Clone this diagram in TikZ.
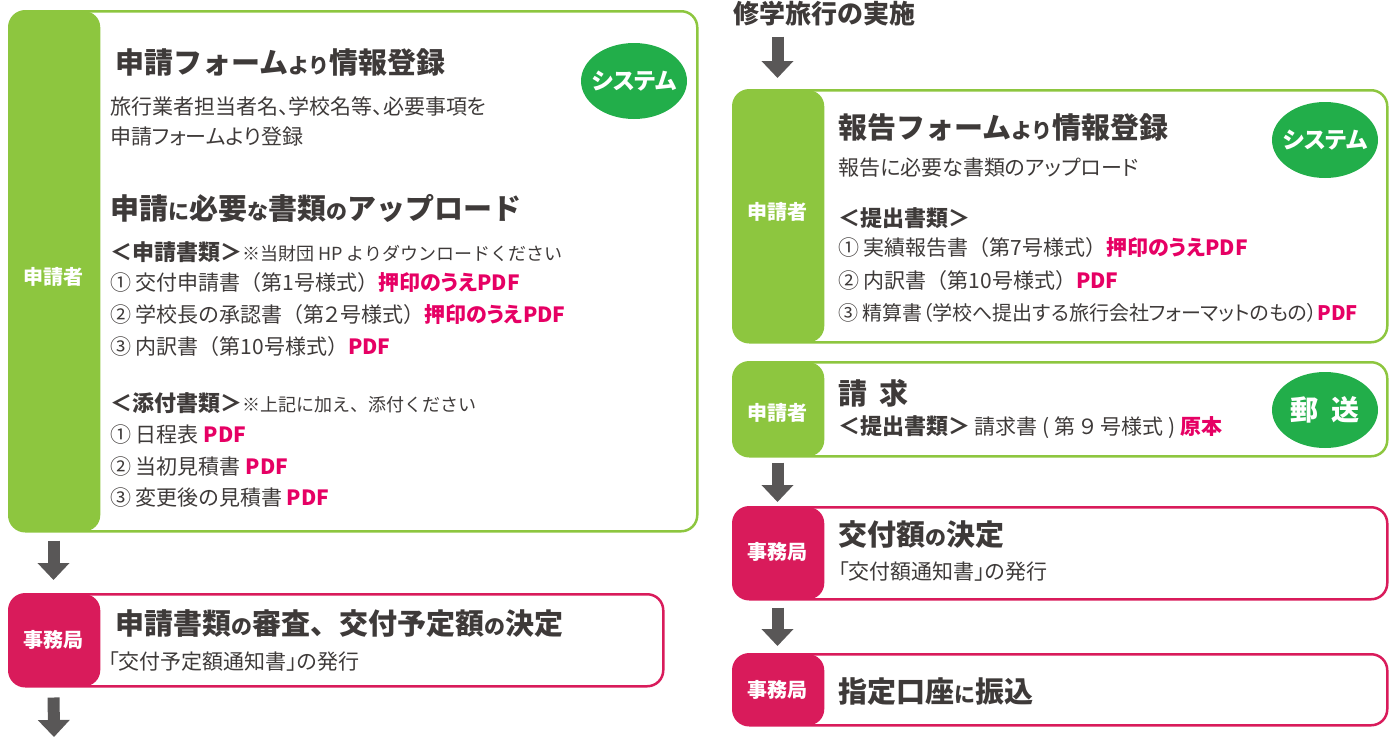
\documentclass[tikz,border=0pt]{standalone}
\usepackage{fontspec}
\setmainfont{Noto Sans CJK JP}[RawFeature=+palt]
\newfontfamily\fwfamily{Noto Sans CJK JP}
\definecolor{bandgreen}{RGB}{141, 198, 63}
\definecolor{bandpink}{RGB}{217, 27, 91}
\definecolor{sysgreen}{RGB}{34, 174, 74}
\definecolor{inkgray}{RGB}{62, 58, 57}
\definecolor{markred}{RGB}{230, 0, 100}
\definecolor{arrowgray}{RGB}{89, 87, 87}
\usetikzlibrary{shapes.geometric, arrows.meta, positioning, calc}
\newcommand{\sm}[1]{{\fontsize{21}{21}\selectfont #1}}
\newcommand{\mk}[1]{\textcolor{markred}{\bfseries #1}}
\newcommand{\fw}[1]{{\fwfamily #1}}
\newcommand{\grp}[1]{{\fwfamily\fontsize{22}{22}\selectfont\bfseries #1}}
\newcommand{\note}[1]{{\fwfamily\fontsize{18}{18}\selectfont #1}}

\begin{document}
\begin{tikzpicture}[
  x=1pt, y=-1pt,
  flowbox/.style={draw=#1, line width=2.5pt, rounded corners=16pt, anchor=north west, inner sep=0pt,
    path picture={\fill[#1] (path picture bounding box.north west) rectangle ([xshift=91pt]path picture bounding box.south west);}},
  tag/.style={text=white, font=\fontsize{20}{20}\selectfont\bfseries, inner sep=0pt},
  txt/.style={anchor=west, inner sep=0pt, text=inkgray},
  head/.style={txt, font=\fwfamily\fontsize{29}{29}\selectfont\bfseries},
  body/.style={txt, font=\fontsize{21}{21}\selectfont},
  item/.style={txt, font=\fontsize{21}{21}\selectfont},
  sysmark/.style={ellipse, fill=sysgreen, minimum width=106pt, minimum height=76pt, inner sep=0pt, text=white, font=\fontsize{23}{23}\selectfont\bfseries},
  flowarrow/.style={draw=arrowgray, line width=12pt, -{Triangle[width=31pt, length=17pt]}}
]
  \useasboundingbox (0,0) rectangle (1393,737);

  % left column
  \node[flowbox=bandgreen, minimum width=688pt, minimum height=520pt] (apply) at (8,10) {};
  \node[tag] (applytag) at (53.5,277) {申請者};
  \node[head] (applyhead) at (115,63) {申請フォーム\sm{より}情報登録};
  \node[body] (applydesc1) at (110,106) {旅行業者担当者名、学校名等、必要事項を};
  \node[body] (applydesc2) at (110,137) {申請フォームより登録};
  \node[sysmark] (applysys) at (634,81) {\makebox[0pt]{システム}};
  \node[head] (uploadhead) at (110,208) {申請\sm{に}必要\sm{な}書類\sm{の}アップロード};
  \node[item] (docs) at (110,252) {\grp{＜申請書類＞}\note{※当財団 HP よりダウンロードください}};
  \node[item] (doc1) at (110,283) {① 交付申請書\fw{（}第1号様式\fw{）}\mk{押印のうえPDF}};
  \node[item] (doc2) at (110,315) {② 学校長の承認書\fw{（}第２号様式\fw{）}\mk{押印のうえPDF}};
  \node[item] (doc3) at (110,347) {③ 内訳書\fw{（}第10号様式\fw{）}\mk{PDF}};
  \node[item] (attach) at (110,403) {\grp{＜添付書類＞}\note{※上記に加え、添付ください}};
  \node[item] (att1) at (110,435) {① 日程表 \mk{PDF}};
  \node[item] (att2) at (110,467) {② 当初見積書 \mk{PDF}};
  \node[item] (att3) at (110,498) {③ 変更後の見積書 \mk{PDF}};

  \node[flowbox=bandpink, minimum width=654pt, minimum height=92pt] (review) at (8,593) {};
  \node[tag] (reviewtag) at (53.5,640) {事務局};
  \node[head] (reviewhead) at (115,624) {申請書類\sm{の}審査、交付予定額\sm{の}決定};
  \node[body] (reviewdesc) at (108,662) {「交付予定額通知書」の発行};
  \coordinate (cont) at (54,737);

  % right column
  \node[txt, font=\fwfamily\fontsize{26}{26}\selectfont\bfseries] (trip) at (733,14) {修学旅行の実施};

  \node[flowbox=bandgreen, minimum width=654pt, minimum height=252pt] (report) at (732,89) {};
  \node[tag] (reporttag) at (777.5,212) {申請者};
  \node[head] (reporthead) at (838,127) {報告フォーム\sm{より}情報登録};
  \node[body] (reportdesc) at (838,168) {報告に必要な書類のアップロード};
  \node[sysmark] (reportsys) at (1325,140) {\makebox[0pt]{システム}};
  \node[item] (subm) at (838,218) {\grp{＜提出書類＞}};
  \node[item] (subm1) at (838,248) {① 実績報告書\fw{（}第7号様式\fw{）}\mk{押印のうえPDF}};
  \node[item] (subm2) at (838,281) {② 内訳書\fw{（}第10号様式\fw{）}\mk{PDF}};
  \node[item, font=\fontsize{20}{20}\selectfont] (subm3) at (838,313) {③ 精算書（学校へ提出する旅行会社フォーマットのもの）\mk{PDF}};

  \node[flowbox=bandgreen, minimum width=654pt, minimum height=94pt] (claim) at (732,361) {};
  \node[tag] (claimtag) at (777.5,413) {申請者};
  \node[head] (claimhead) at (838,393) {請\hspace{12pt}求};
  \node[item] (claimdoc) at (838,427) {\grp{＜提出書類＞} 請求書 ( 第 ９ 号様式 ) \mk{原本}};
  \node[sysmark, font=\fontsize{28}{28}\selectfont\bfseries] (claimpost) at (1325,410) {\makebox[0pt]{郵\hspace{14pt}送}};

  \node[flowbox=bandpink, minimum width=654pt, minimum height=92pt] (grant) at (732,506) {};
  \node[tag] (granttag) at (777.5,552) {事務局};
  \node[head] (granthead) at (838,535) {交付額\sm{の}決定};
  \node[body] (grantdesc) at (838,572) {「交付額通知書」の発行};

  \node[flowbox=bandpink, minimum width=654pt, minimum height=71pt] (pay) at (732,653) {};
  \node[tag] (paytag) at (777.5,690) {事務局};
  \node[head] (payhead) at (838,692) {指定口座\sm{に}振込};

  % arrows
  \draw[flowarrow, shorten <=8pt, shorten >=13pt] (apply.south -| applytag) -- (review.north -| applytag);
  \draw[flowarrow, shorten <=10pt] (review.south -| reviewtag) -- (cont);
  \draw[flowarrow, shorten <=10pt, shorten >=11pt] (trip.south -| reporttag) -- (report.north -| reporttag);
  \draw[flowarrow, shorten <=5pt, shorten >=4pt] (claim.south -| claimtag) -- (grant.north -| claimtag);
  \draw[flowarrow, shorten <=7pt, shorten >=7pt] (grant.south -| granttag) -- (pay.north -| granttag);
\end{tikzpicture}
\end{document}
